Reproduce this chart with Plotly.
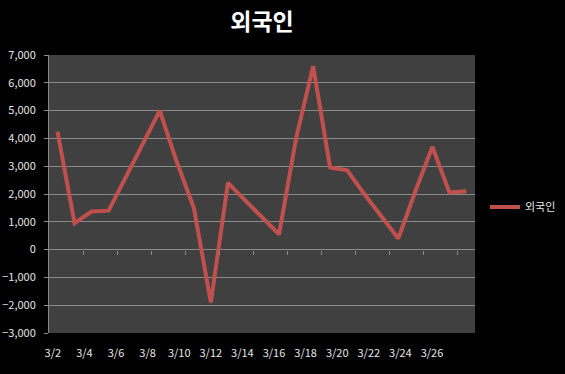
import plotly.graph_objects as go

categories = ["3/%d" % d for d in range(2, 27)]
values = [4240, 950, 1370, 1400, 2600, 3800, 5000, 3150, 1500, -1900,
          2400, 1780, 1170, 550, 4000, 6600, 2950, 2850, 2000, 1200,
          400, 2100, 3700, 2050, 2100]
tick_labels = categories[::2]
series_name = "외국인"

W, H = 565, 374
L, R, T, B = 49, 90, 55, 41

idx = list(range(len(categories)))
grid = "#8a8a8a"
txt = "#e6e6e6"
font_fam = "Noto Sans CJK KR, Noto Sans, sans-serif"

fig = go.Figure()
fig.add_trace(go.Scatter(
    x=idx, y=values, mode="lines", name=series_name,
    line=dict(color="#C0504D", width=4), xaxis="x", yaxis="y",
))
# label axis trace (invisible)
fig.add_trace(go.Scatter(
    x=list(range(len(tick_labels))), y=[None] * len(tick_labels),
    mode="lines", showlegend=False, hoverinfo="skip", xaxis="x2", yaxis="y",
))

ymin, ymax = -3000, 7000
lab_left = (0 - (52.8 - L)) / 31.6
lab_right = ((W - R) - 52.8) / 31.6

fig.update_layout(
    width=W, height=H,
    margin=dict(l=L, r=R, t=T, b=B, autoexpand=False),
    paper_bgcolor="black", plot_bgcolor="#404040",
    font=dict(family=font_fam, color=txt, size=11),
    title=dict(text="<b>외국인</b>", x=0.5, xref="paper", xanchor="center",
               y=1 - 22 / H, yref="container", yanchor="middle",
               font=dict(size=23, color="white", family=font_fam)),
    showlegend=True,
    legend=dict(x=(485 - L) / (W - L - R), xanchor="left",
                y=(H - B - 207) / (H - T - B), yanchor="middle",
                bgcolor="rgba(0,0,0,0)", font=dict(size=11, color=txt)),
    xaxis=dict(range=[-0.5, len(categories) - 0.5], anchor="free",
               position=(0 - ymin) / (ymax - ymin), automargin=False,
               tickvals=[i + 1.5 for i in range(0, len(categories) - 1, 2)],
               showticklabels=False, ticks="outside", ticklen=4,
               tickcolor=grid, showgrid=False, zeroline=False, showline=False),
    xaxis2=dict(range=[lab_left, lab_right], overlaying="x", anchor="y",
                side="bottom", tickvals=list(range(len(tick_labels))),
                ticktext=tick_labels, ticks="", showgrid=False, zeroline=False,
                showline=False, ticklabelstandoff=12, automargin=False,
                tickfont=dict(size=11, color=txt)),
    yaxis=dict(range=[ymin, ymax], dtick=1000, tickformat=",d",
               showgrid=True, gridcolor=grid, gridwidth=1, zeroline=False,
               showline=True, linecolor=grid, linewidth=1, automargin=False,
               ticks="outside", ticklen=4, tickcolor=grid,
               ticklabelstandoff=6, tickfont=dict(size=11, color=txt)),
)

fig.write_html("out.html", config={"displayModeBar": False},
               post_script="document.body.style.margin='0';document.body.style.background='black';")
